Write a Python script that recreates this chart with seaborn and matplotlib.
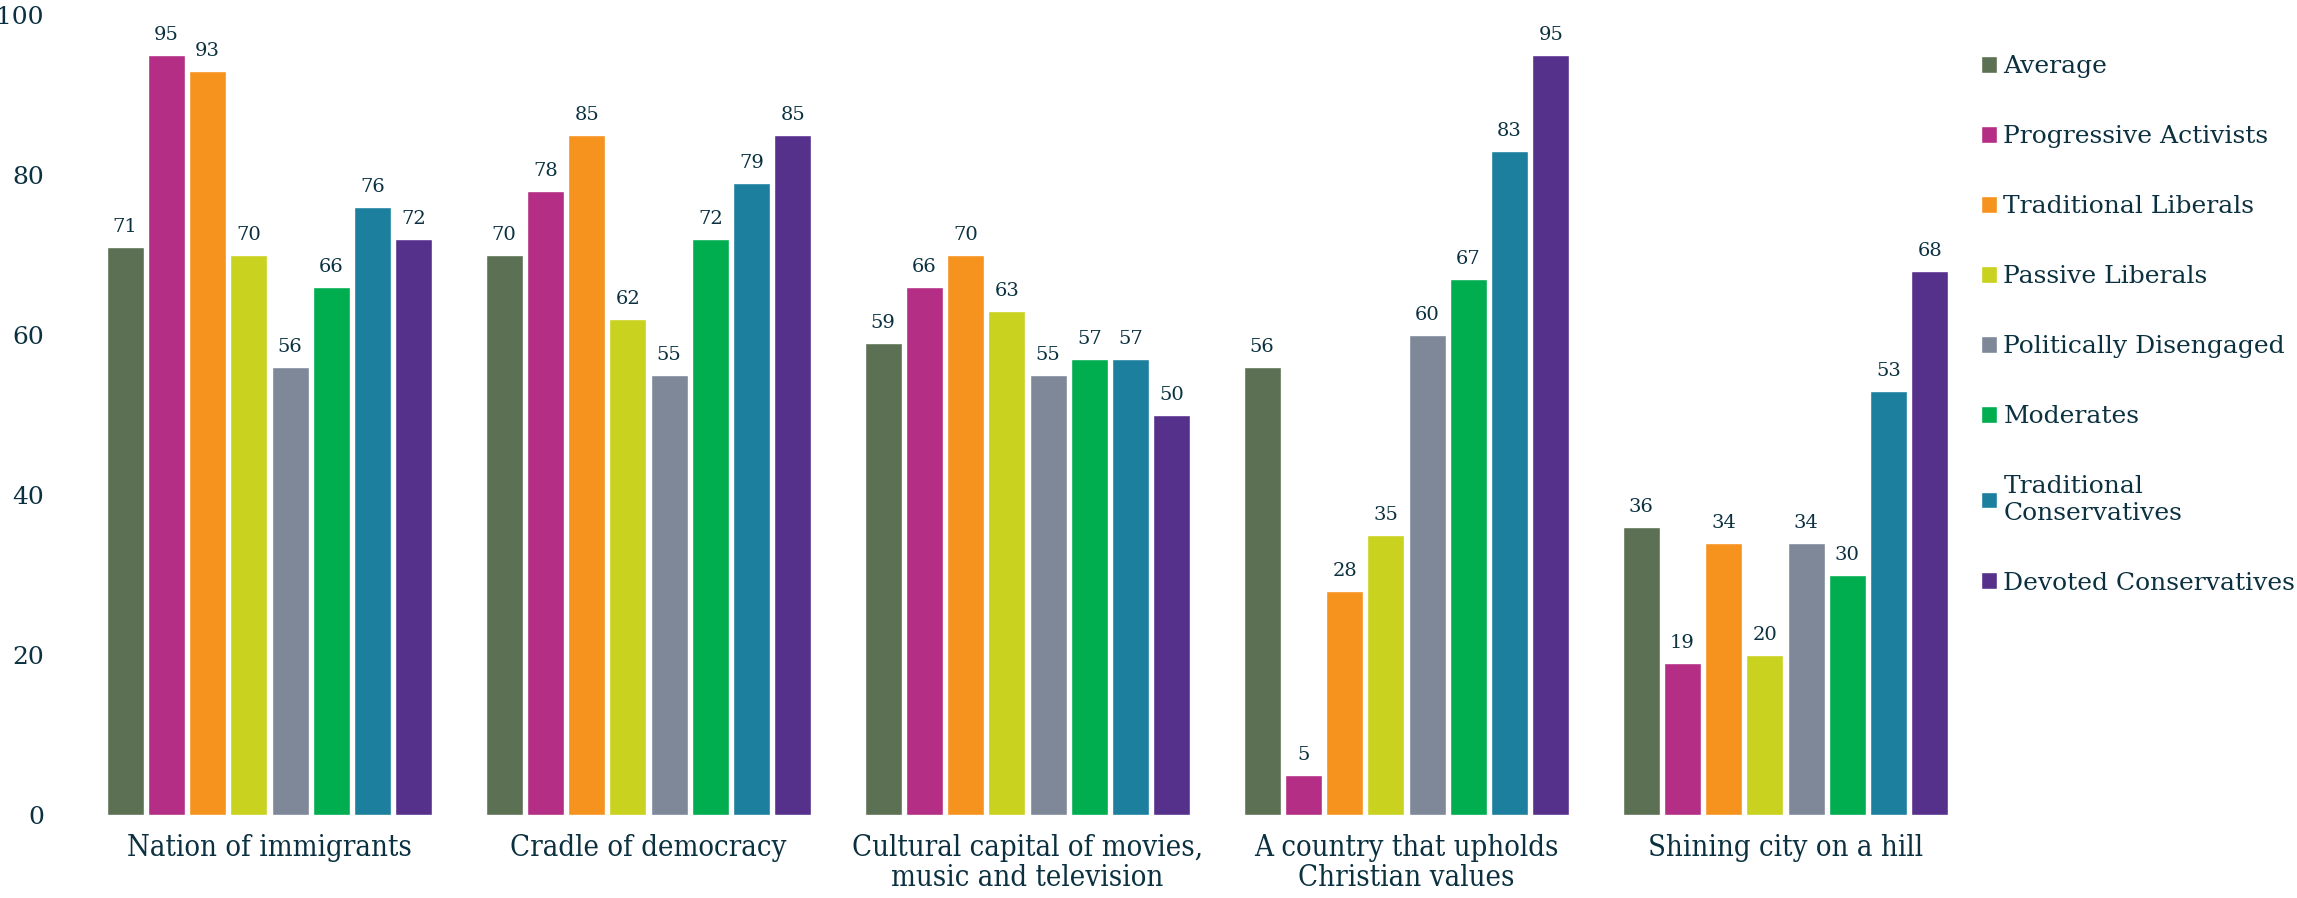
import pandas as pd
import matplotlib.pyplot as plt
import seaborn as sns

statements = ['Nation of immigrants', 'Cradle of democracy',
              'Cultural capital of movies,\nmusic and television',
              'A country that upholds\nChristian values', 'Shining city on a hill']
groups = ['Average', 'Progressive Activists', 'Traditional Liberals', 'Passive Liberals',
          'Politically Disengaged', 'Moderates', 'Traditional Conservatives', 'Devoted Conservatives']
colors = ['#5c7053', '#b32e84', '#f6921e', '#c8d21f', '#7f8898', '#00ae4f', '#1d7f9e', '#55318c']

nation = [71, 95, 93, 70, 56, 66, 76, 72]
cradle = [70, 78, 85, 62, 55, 72, 79, 85]
cultural = [59, 66, 70, 63, 55, 57, 57, 50]
christian = [56, 5, 28, 35, 60, 67, 83, 95]
shining = [36, 19, 34, 20, 34, 30, 53, 68]

rows = []
for st, vals in zip(statements, [nation, cradle, cultural, christian, shining]):
    for g, v in zip(groups, vals):
        rows.append({'statement': st, 'group': g, 'value': v})
df = pd.DataFrame(rows)

txt = '#0b3140'
sns.set_style('white')
plt.rcParams['font.family'] = ['DejaVu Serif']

fig = plt.figure(figsize=(22.97, 8.98), dpi=100)
ax = fig.add_axes([80 / 2297, 83 / 898, 1895 / 2297, 800 / 898])
sns.barplot(data=df, x='statement', y='value', hue='group', hue_order=groups,
            palette=colors, width=0.87, gap=0.1, edgecolor='white', linewidth=1,
            saturation=1, ax=ax)

for c in ax.containers:
    ax.bar_label(c, fmt='%d', padding=8, fontsize=14, color=txt)

ax.set_ylim(0, 100)
ax.set_xlim(-0.5, 4.5)
ax.set_yticks([0, 20, 40, 60, 80, 100])
ax.set_xlabel('')
ax.set_ylabel('')
ax.tick_params(axis='y', length=0, pad=26, labelsize=18, labelcolor=txt)
ax.tick_params(axis='x', length=0, pad=14, labelcolor=txt)
for lab in ax.get_xticklabels():
    lab.set_fontsize(21)
    lab.set_fontstretch('condensed')
    lab.set_linespacing(1.05)
sns.despine(left=True, bottom=True)

sns.move_legend(ax, 'upper left', bbox_to_anchor=(1971 / 2297, 0.950),
                bbox_transform=fig.transFigure, frameon=False, title=None,
                fontsize=18, labelspacing=1.88, handlelength=0.66, handleheight=0.66,
                handletextpad=0.24, borderaxespad=0)
leg = ax.get_legend()
for t in leg.get_texts():
    t.set_color(txt)
    if t.get_text() == 'Traditional Conservatives':
        t.set_text('Traditional\nConservatives')

fig.savefig('out.png', dpi=100)
